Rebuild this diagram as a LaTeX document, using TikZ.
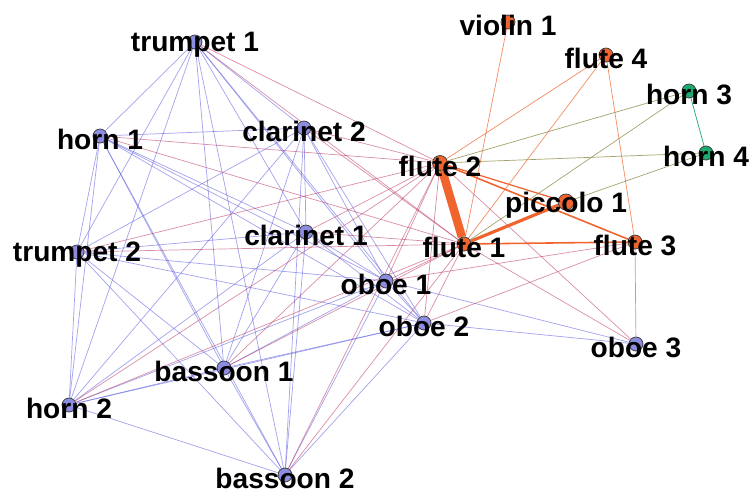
\documentclass[tikz,border=0pt]{standalone}
\usepackage{fontspec}
\setmainfont{Liberation Sans}
\definecolor{wind}{RGB}{140,140,225}
\definecolor{flute}{RGB}{240,100,45}
\definecolor{brass}{RGB}{30,170,110}
\definecolor{blueedge}{RGB}{100,100,225}
\definecolor{rededge}{RGB}{185,50,95}
\definecolor{oliveedge}{RGB}{140,140,70}
\pgfdeclarelayer{background}
\pgfsetlayers{background,main}
\tikzset{
    every path/.style={line width=0.4pt},
    dot/.style={circle, draw=black!75, line width=0.45pt, inner sep=0pt, minimum size=0.28cm},
    bl/.style={dot, fill=wind},
    or/.style={dot, fill=flute},
    gr/.style={dot, fill=brass},
    lab/.style={font=\fontsize{16}{19}\selectfont\bfseries, inner sep=0pt, yshift=-0.06cm},
    blu/.style={draw=blueedge, draw opacity=0.6},
    rd/.style={draw=rededge, draw opacity=0.55},
    org/.style={draw=flute},
    thin org/.style={draw=flute, draw opacity=0.75},
    olv/.style={draw=oliveedge, draw opacity=0.8},
    grn/.style={draw=brass}
}
\begin{document}
\begin{tikzpicture}[x=0.02cm, y=-0.02cm]
\useasboundingbox (0,0) rectangle (752,494);
% woodwinds and brass (blue)
\node[bl] (tp1) at (195,42) {};
\node[bl] (hn1) at (100,136) {};
\node[bl] (cl2) at (304,128) {};
\node[bl] (cl1) at (306,232) {};
\node[bl] (tp2) at (77,252) {};
\node[bl] (hn2) at (69,405) {};
\node[bl] (bs1) at (224,368) {};
\node[bl] (bs2) at (285,475) {};
\node[bl] (ob1) at (386,281) {};
\node[bl] (ob2) at (424,323) {};
\node[bl] (ob3) at (636,344) {};
% flutes (orange)
\node[or] (fl1) at (464,244) {};
\node[or,minimum size=0.3cm] (fl2) at (440,163) {};
\node[or] (fl3) at (635,242) {};
\node[or] (fl4) at (606,55) {};
\node[or,minimum size=0.32cm] (pc1) at (566,202) {};
\node[or] (vn1) at (508,22) {};
% horns (green)
\node[gr] (hn3) at (689,91) {};
\node[gr] (hn4) at (706,153) {};

\node[lab] at (tp1) {trumpet 1};
\node[lab] at (hn1) {horn 1};
\node[lab] at (cl2) {clarinet 2};
\node[lab] at (cl1) {clarinet 1};
\node[lab] at (tp2) {trumpet 2};
\node[lab] at (hn2) {horn 2};
\node[lab] at (bs1) {bassoon 1};
\node[lab] at (bs2) {bassoon 2};
\node[lab] at (ob1) {oboe 1};
\node[lab] at (ob2) {oboe 2};
\node[lab] at (ob3) {oboe 3};
\node[lab] at (fl1) {flute 1};
\node[lab] at (fl2) {flute 2};
\node[lab] at (fl3) {flute 3};
\node[lab] at (fl4) {flute 4};
\node[lab] at (pc1) {piccolo 1};
\node[lab] at (vn1) {violin 1};
\node[lab] at (hn3) {horn 3};
\node[lab] at (hn4) {horn 4};

\begin{pgfonlayer}{background}
\path[blu] (tp1) edge (hn1) edge (cl2) edge (cl1) edge (tp2) edge (hn2) edge (bs1) edge (bs2) edge (ob1) edge (ob2);
\path[blu] (hn1) edge (cl2) edge (cl1) edge (tp2) edge (hn2) edge (bs1) edge (bs2) edge (ob1) edge (ob2);
\path[blu] (cl2) edge (cl1) edge (tp2) edge (hn2) edge (bs1) edge (bs2) edge (ob1) edge (ob2);
\path[blu] (cl1) edge (tp2) edge (hn2) edge (bs1) edge (bs2) edge (ob1) edge (ob2);
\path[blu] (tp2) edge (hn2) edge (bs1) edge (bs2) edge (ob1) edge (ob2);
\path[blu] (hn2) edge (bs1) edge (bs2) edge (ob1) edge (ob2);
\path[blu] (bs1) edge (bs2) edge (ob1) edge (ob2);
\path[blu] (bs2) edge (ob1) edge (ob2);
\path[blu] (ob1) edge (ob2);
\path[blu] (ob3) edge (ob1) edge (ob2);

\path[rd] (fl1) edge (tp1) edge (hn1) edge (cl2) edge (cl1) edge (tp2) edge (hn2) edge (bs1) edge (bs2) edge (ob1) edge (ob2) edge (ob3);
\path[rd] (fl2) edge (tp1) edge (hn1) edge (cl2) edge (cl1) edge (tp2) edge (hn2) edge (bs1) edge (bs2) edge (ob1) edge (ob2) edge (ob3);
\path[rd] (fl3) edge (ob1) edge (ob2) edge (ob3);

\draw[org, line width=4.8pt] (fl1) -- (fl2);
\draw[org, line width=1.8pt] (fl1) -- (pc1);
\draw[org, line width=0.9pt] (fl1) -- (fl3);
\draw[org, line width=0.9pt] (fl2) -- (fl3);
\draw[org, line width=0.7pt] (fl2) -- (pc1);
\path[thin org] (fl1) edge (vn1) edge (fl4);
\path[thin org] (fl4) edge (fl2) edge (fl3);

\path[olv] (fl2) edge (hn3) edge (hn4);
\path[olv] (hn3) edge (fl1);
\path[olv] (hn4) edge (pc1);
\draw[grn] (hn3) -- (hn4);
\end{pgfonlayer}
\end{tikzpicture}
\end{document}
